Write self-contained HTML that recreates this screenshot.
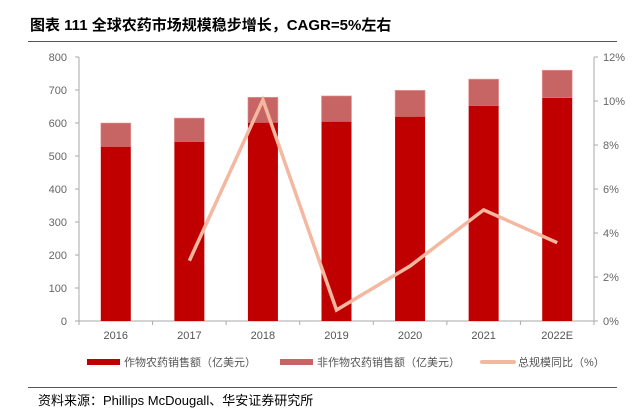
<!DOCTYPE html>
<html><head><meta charset="utf-8"><style>
body{margin:0;background:#fff;}
svg{display:block;font-family:"Liberation Sans","Noto Sans CJK SC",sans-serif;}
</style></head><body>
<svg width="643" height="409" viewBox="0 0 643 409">
<text x="30" y="30" font-size="15" font-weight="bold" fill="#000">图表 111 全球农药市场规模稳步增长，CAGR=5%左右</text>
<line x1="28" y1="41.5" x2="617" y2="41.5" stroke="#555" stroke-width="1"/>
<g id="plot"></g>
<g>
<g><rect x="87" y="359" width="33" height="6" fill="#c00000"/><text x="124" y="366" font-size="11" fill="#555">作物农药销售额（亿美元）</text></g>
<g><rect x="280" y="359" width="33" height="6" fill="#c76565"/><text x="317" y="366" font-size="11" fill="#555">非作物农药销售额（亿美元）</text></g>
<g><line x1="482" y1="362" x2="514" y2="362" stroke="#f4b8a0" stroke-width="4" stroke-linecap="round"/><text x="518" y="366" font-size="11" fill="#555">总规模同比（%）</text></g>
</g>
<line x1="28" y1="387.5" x2="617" y2="387.5" stroke="#555" stroke-width="1"/>
<text x="38" y="405" font-size="13" fill="#000">资料来源：Phillips McDougall、华安证券研究所</text>
</svg>
<script>
const categories=["2016","2017","2018","2019","2020","2021","2022E"];
const cropSales=[528,543,601,604,619,652,676];
const totalSales=[600,615,678,682,699,733,760];
const growth=[null,2.74,10.05,0.5,2.5,5.05,3.56];
const leftTicks=[0,100,200,300,400,500,600,700,800];
const rightTicks=[0,2,4,6,8,10,12];
const NS="http://www.w3.org/2000/svg";
const g=document.getElementById('plot');
const X0=79,X1=594,Y0=321,Y1=57;
const band=(X1-X0)/categories.length;
const xc=i=>X0+band*(i+0.5);
const yL=v=>Y0-(v/800)*(Y0-Y1);
const yR=v=>Y0-(v/12)*(Y0-Y1);
function mk(t,a){const e=document.createElementNS(NS,t);for(const k in a)e.setAttribute(k,a[k]);g.appendChild(e);return e;}
// axes
let e=mk('line',{x1:X0,y1:Y1,x2:X0,y2:Y0,stroke:'#aaa'});


e=mk('line',{x1:X1,y1:Y1,x2:X1,y2:Y0,stroke:'#aaa'});


e=mk('line',{x1:X0-4,y1:Y0,x2:X1+4,y2:Y0,stroke:'#aaa'});


leftTicks.forEach(v=>{
 mk('line',{x1:X0-4,y1:yL(v),x2:X0,y2:yL(v),stroke:'#aaa'});
 const t=mk('text',{x:X0-12,y:yL(v)+4,'font-size':11,fill:'#666','text-anchor':'end'});t.textContent=v;
 
 
});
rightTicks.forEach(v=>{
 mk('line',{x1:X1,y1:yR(v),x2:X1+4,y2:yR(v),stroke:'#aaa'});
 const t=mk('text',{x:X1+9,y:yR(v)+4,'font-size':11,fill:'#666'});t.textContent=v+'%';
 
 
});
for(let i=0;i<=categories.length;i++){mk('line',{x1:X0+band*i,y1:Y0,x2:X0+band*i,y2:Y0+4,stroke:'#aaa'});}
categories.forEach((c,i)=>{
 const t=mk('text',{x:xc(i),y:Y0+18,'font-size':11,fill:'#555','text-anchor':'middle'});t.textContent=c;
 
 
 const w=30;
 const r2=mk('rect',{x:xc(i)-w/2,y:yL(totalSales[i]),width:w,height:yL(cropSales[i])-yL(totalSales[i]),fill:'#c76565',stroke:'#e8a0a0','stroke-width':0.6});
 
 
 const r=mk('rect',{x:xc(i)-w/2,y:yL(cropSales[i]),width:w,height:Y0-yL(cropSales[i]),fill:'#c00000'});
 
 
});
const pts=growth.map((v,i)=>v==null?null:xc(i)+','+yR(v)).filter(p=>p);
const pl=mk('polyline',{points:pts.join(' '),fill:'none',stroke:'#f4b8a0','stroke-width':3.5,'stroke-linejoin':'miter'});


</script>
</body></html>
